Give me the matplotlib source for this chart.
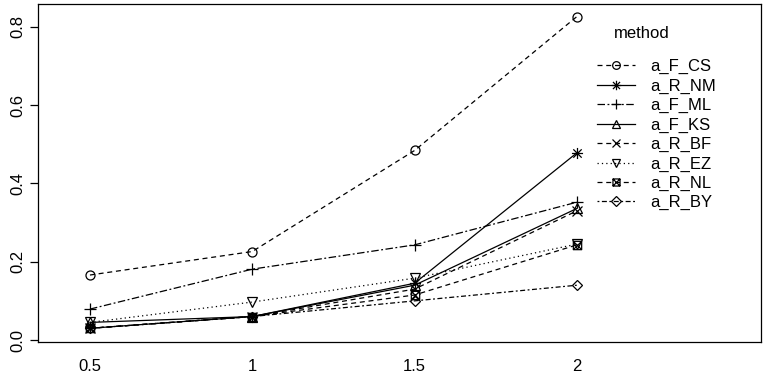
import matplotlib
matplotlib.use("Agg")
import matplotlib.pyplot as plt
from matplotlib.path import Path

plt.rcParams['font.family'] = ['Liberation Sans', 'DejaVu Sans']

x_labels = ["0.5", "1", "1.5", "2"]
methods = ["a_F_CS", "a_R_NM", "a_F_ML", "a_F_KS", "a_R_BF", "a_R_EZ", "a_R_NL", "a_R_BY"]
a_F_CS = [0.166, 0.226, 0.484, 0.826]
a_R_NM = [0.030, 0.060, 0.145, 0.478]
a_F_ML = [0.079, 0.181, 0.243, 0.352]
a_F_KS = [0.045, 0.060, 0.140, 0.336]
a_R_BF = [0.030, 0.060, 0.130, 0.330]
a_R_EZ = [0.045, 0.097, 0.158, 0.245]
a_R_NL = [0.030, 0.060, 0.115, 0.243]
a_R_BY = [0.030, 0.060, 0.100, 0.140]
series = [a_F_CS, a_R_NM, a_F_ML, a_F_KS, a_R_BF, a_R_EZ, a_R_NL, a_R_BY]

# custom markers
asterisk = Path([(-1, 0), (1, 0), (0, -1), (0, 1), (-0.75, -0.75), (0.75, 0.75), (-0.75, 0.75), (0.75, -0.75)],
                [Path.MOVETO, Path.LINETO] * 4)
sqx = Path([(-1, -1), (1, -1), (1, 1), (-1, 1), (-1, -1), (-1, -1), (1, 1), (-1, 1), (1, -1)],
           [Path.MOVETO, Path.LINETO, Path.LINETO, Path.LINETO, Path.CLOSEPOLY,
            Path.MOVETO, Path.LINETO, Path.MOVETO, Path.LINETO])

markers = ['o', asterisk, '+', '^', 'x', 'v', sqx, 'D']
msizes = [6.5, 8, 9, 7.5, 6.5, 7.5, 6, 5.5]
dashes = [(4, 3), None, (6, 2, 1.5, 2), None, (4, 3), (1, 2.5), (4, 3), (1.5, 2, 4, 2)]

fig = plt.figure(figsize=(7.65, 3.8), dpi=100)
ax = fig.add_axes([38/765, 38/380, (761-38)/765, (342-4)/380])
xs = list(range(1, len(x_labels) + 1))
handles = []
for name, vals, m, ms, d in zip(methods, series, markers, msizes, dashes):
    kw = dict(color='black', lw=0.9, marker=m, markersize=ms, markerfacecolor='none',
              markeredgecolor='black', markeredgewidth=0.9, label=name)
    if d is None:
        line, = ax.plot(xs, vals, linestyle='-', **kw)
    else:
        line, = ax.plot(xs, vals, dashes=d, **kw)
    handles.append(line)

ax.set_xlim(0.68, 5.134)
ax.set_ylim(-0.005, 0.858)
ax.set_xticks(xs)
ax.set_xticklabels(x_labels)
ax.set_yticks([0.0, 0.2, 0.4, 0.6, 0.8])
ax.set_yticklabels(["0.0", "0.2", "0.4", "0.6", "0.8"], rotation=90, va='center')
ax.tick_params(axis='x', length=0, pad=12, labelsize=12)
ax.tick_params(axis='y', length=6, width=0.9, pad=3, labelsize=12)
for s in ax.spines.values():
    s.set_linewidth(0.9)

ax.text(642/765, (380-33)/380, "method", transform=fig.transFigure, ha='center', va='center', fontsize=12)
leg = ax.legend(handles=handles, loc='upper left', bbox_to_anchor=(597/765, (380-59)/380),
                bbox_transform=fig.transFigure, frameon=False, fontsize=12, markerscale=0.85,
                handlelength=2.3, handletextpad=0.9, labelspacing=0.26, borderpad=0, borderaxespad=0)

fig.savefig("out.png", dpi=100)
